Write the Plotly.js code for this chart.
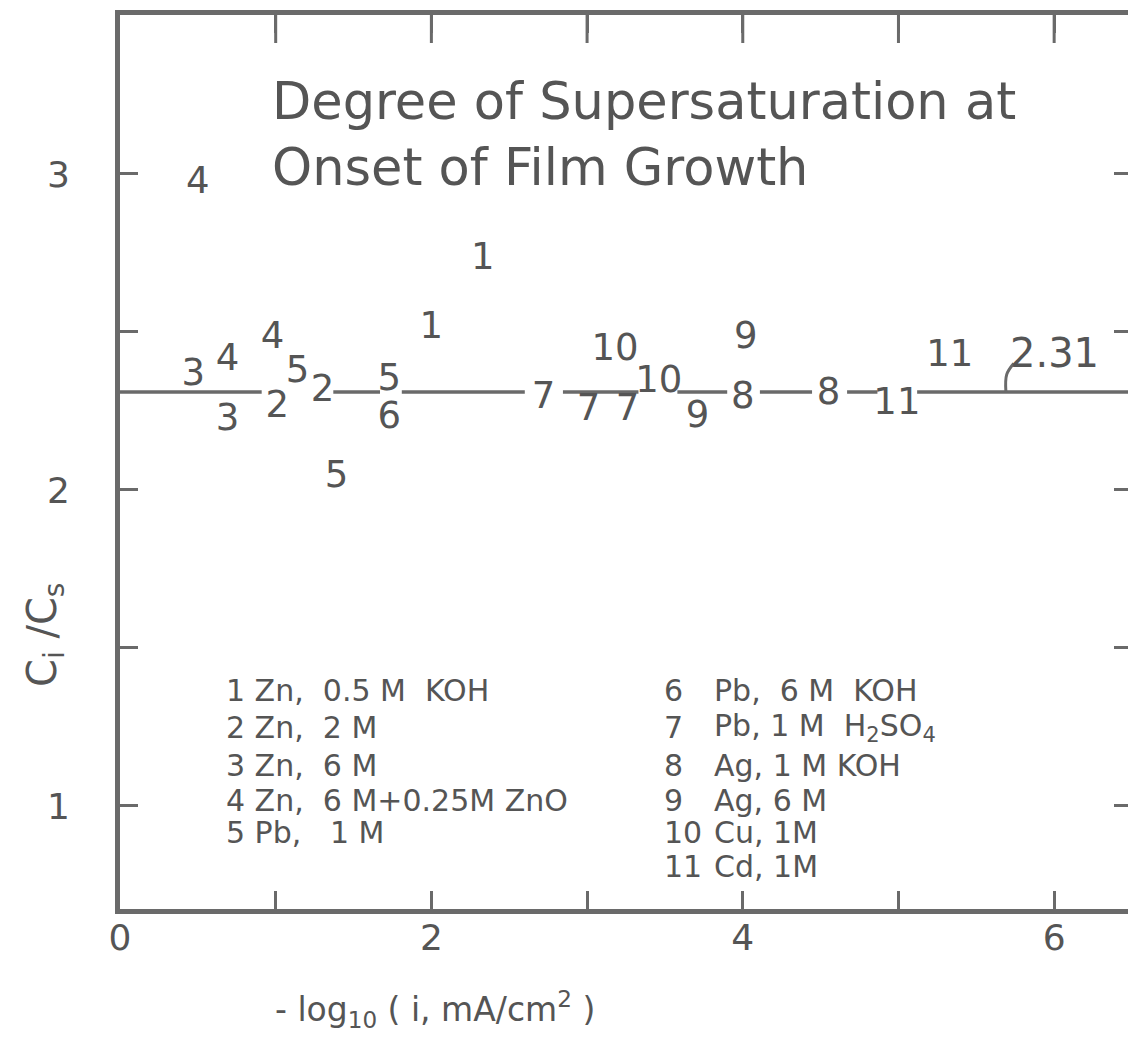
<!DOCTYPE html>
<html><head><meta charset="utf-8">
<script src="https://cdn.plot.ly/plotly-3.0.1.min.js"></script>
<style>html,body{margin:0;padding:0;overflow:hidden;background:#fff}#chart{width:1140px;height:1055px}</style>
</head><body><div id="chart"></div>
<script>
// ---- data ----
const seriesNames = ['1','2','3','4','5','6','7','8','9','10','11'];
const s1x = [2.00, 2.33],        s1y = [2.51, 2.73];
const s2x = [1.01, 1.30],        s2y = [2.26, 2.31];
const s3x = [0.47, 0.69],        s3y = [2.36, 2.22];
const s4x = [0.50, 0.69, 0.98],  s4y = [2.97, 2.41, 2.48];
const s5x = [1.14, 1.39, 1.73],  s5y = [2.37, 2.04, 2.345];
const s6x = [1.73],              s6y = [2.225];
const s7x = [2.72, 3.01, 3.26],  s7y = [2.29, 2.25, 2.25];
const s8x = [4.00, 4.55],        s8y = [2.29, 2.30];
const s9x = [3.71, 4.02],        s9y = [2.23, 2.48];
const s10x = [3.18, 3.46],       s10y = [2.44, 2.34];
const s11x = [4.99, 5.33],       s11y = [2.27, 2.42];

const meanRatio = 2.31;
// intervals of x where the mean line is interrupted by the labels
const lineGaps = [[0.91,1.37],[1.67,1.81],[2.60,2.845],[3.33,3.58],[3.90,4.11],[4.445,4.67],[4.865,5.12]];
const leaderX = [5.69, 5.695, 5.74], leaderY = [2.31, 2.365, 2.40];

const xTickVals = [0,1,2,3,4,5,6];
const xTickText = ['0','','2','','4','','6'];
const yTickVals = [1,1.5,2,2.5,3];
const yTickText = ['1','','2','','3'];

const legendLeft = ['1 Zn,\u00a0 0.5 M\u00a0 KOH','2 Zn,\u00a0 2 M','3 Zn,\u00a0 6 M','4 Zn,\u00a0 6 M+0.25M ZnO','5 Pb,\u00a0 \u00a01 M'];
const legendRightNum = ['6','7','8','9','10','11'];
const legendRightText = ['Pb,\u00a0 6 M\u00a0 KOH','Pb,\u00a01 M\u00a0 H<sub>2</sub>SO<sub>4</sub>','Ag,\u00a01 M KOH','Ag, 6 M','Cu,\u00a01M','Cd,\u00a01M'];

const titleText = 'Degree of Supersaturation at<br>Onset of Film Growth';
const xTitleText = '- log<sub>10</sub> ( i, mA/cm<sup>2</sup> )';
const yTitleText = 'C<sub>i</sub> /C<sub>s</sub>';

// ---- drawing ----
const FONT = '"DejaVu Sans", sans-serif';
const INK = '#555555';
const FRAME = '#6a6a6a';
const W = 1140, H = 1055;
const M = {l:120, r:8, t:15, b:146};
const X_RANGE = [0, 6.5], Y_RANGE = [0.674, 3.503];
const pw = W - M.l - M.r, ph = H - M.t - M.b;
const px2paperX = p => (p - M.l) / pw;
const px2paperY = p => 1 - (p - M.t) / ph;

const sx = [s1x,s2x,s3x,s4x,s5x,s6x,s7x,s8x,s9x,s10x,s11x];
const sy = [s1y,s2y,s3y,s4y,s5y,s6y,s7y,s8y,s9y,s10y,s11y];

const traces = [];
// mean line with gaps
const lx = [], ly = [];
let start = X_RANGE[0];
lineGaps.forEach(g => { lx.push(start, g[0], null); ly.push(meanRatio, meanRatio, null); start = g[1]; });
lx.push(start, X_RANGE[1]); ly.push(meanRatio, meanRatio);
traces.push({x:lx, y:ly, mode:'lines', line:{color:'#6a6a6a', width:3.5}, hoverinfo:'skip', showlegend:false});
traces.push({x:leaderX, y:leaderY, mode:'lines', line:{color:'#6a6a6a', width:3, shape:'spline'}, hoverinfo:'skip', showlegend:false});

seriesNames.forEach((n,i) => {
  traces.push({
    x: sx[i], y: sy[i], mode:'text', name:n,
    text: sx[i].map(() => n), textposition:'middle center',
    textfont:{family:FONT, size:37, color:INK},
    cliponaxis:false, showlegend:false
  });
});
// tick marks along the top edge of the frame (clipped half of a vertical line marker)
const topTicks = xTickVals.slice(1);
traces.push({x:topTicks, y:topTicks.map(() => Y_RANGE[1]), mode:'markers', cliponaxis:true, hoverinfo:'skip', showlegend:false,
  marker:{symbol:'line-ns-open', size:40, color:FRAME, line:{color:FRAME, width:3}}});

const annotations = [];
annotations.push({xref:'x', yref:'y', x:6.0, y:meanRatio+0.123, text:String(meanRatio), showarrow:false,
  font:{family:FONT, size:40, color:INK}});
// legend text blocks
const rowsY = [690, 727, 765, 800, 832, 866];
legendLeft.forEach((t,i) => annotations.push({xref:'paper', yref:'paper', x:px2paperX(224), y:px2paperY(rowsY[i]),
  xanchor:'left', yanchor:'middle', text:t, showarrow:false, font:{family:FONT, size:30, color:INK}}));
legendRightNum.forEach((t,i) => annotations.push({xref:'paper', yref:'paper', x:px2paperX(662), y:px2paperY(rowsY[i]),
  xanchor:'left', yanchor:'middle', text:t, showarrow:false, font:{family:FONT, size:30, color:INK}}));
legendRightText.forEach((t,i) => annotations.push({xref:'paper', yref:'paper', x:px2paperX(712), y:px2paperY(rowsY[i]),
  xanchor:'left', yanchor:'middle', text:t, showarrow:false, font:{family:FONT, size:30, color:INK}}));
// axis titles
annotations.push({xref:'paper', yref:'paper', x:px2paperX(435), y:px2paperY(1010), xanchor:'center', yanchor:'middle',
  text:xTitleText, showarrow:false, font:{family:FONT, size:33, color:INK}});
annotations.push({xref:'paper', yref:'paper', x:px2paperX(45), y:px2paperY(635), xanchor:'center', yanchor:'middle',
  text:yTitleText, textangle:-90, showarrow:false, font:{family:FONT, size:40, color:INK}});

const axisCommon = {showgrid:false, zeroline:false, showline:true, linecolor:FRAME, linewidth:5, mirror:'ticks',
  ticks:'inside', ticklen:18, tickwidth:3, tickcolor:FRAME, fixedrange:true};

const layout = {
  width:W, height:H, margin:M, paper_bgcolor:'#fff', plot_bgcolor:'#fff', showlegend:false,
  title:{text:titleText, xref:'paper', yref:'paper', x:px2paperX(272), xanchor:'left', y:px2paperY(119), yanchor:'top',
    font:{family:FONT, size:51, color:INK}},
  xaxis:Object.assign({}, axisCommon, {range:X_RANGE, tickmode:'array', tickvals:xTickVals, ticktext:xTickText,
    tickfont:{family:FONT, size:36, color:INK}, ticklabelstandoff:-7}),
  yaxis:Object.assign({}, axisCommon, {range:Y_RANGE, tickmode:'array', tickvals:yTickVals, ticktext:yTickText,
    tickfont:{family:FONT, size:36, color:INK}, ticklabelstandoff:38}),
  annotations:annotations
};

Plotly.newPlot('chart', traces, layout, {displayModeBar:false, staticPlot:true});
</script>
</body></html>
